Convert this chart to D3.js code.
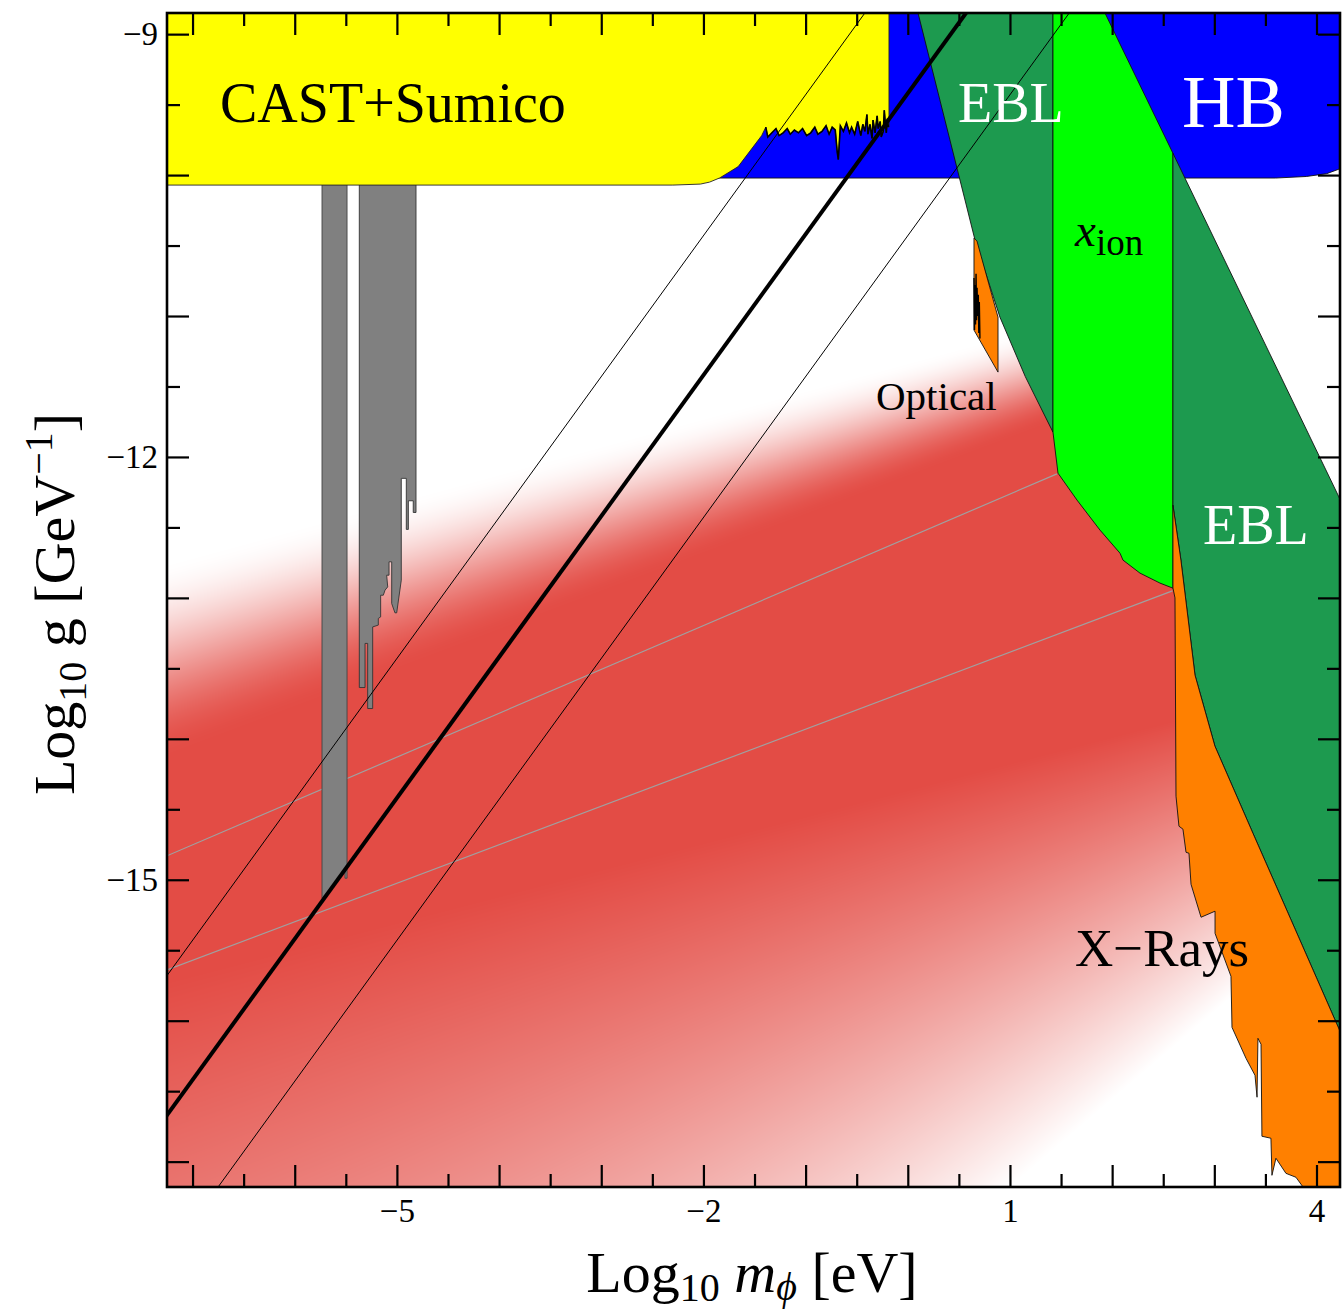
<!DOCTYPE html>
<html lang="en">
<head>
<meta charset="UTF-8">
<title>ALP bounds</title>
<style>
  body { margin: 0; background: #fff; }
  svg text { font-family: "Liberation Serif", "Times New Roman", serif; }
</style>
</head>
<body>
<script src="https://d3js.org/d3.v7.min.js"></script>
<svg id="chart" width="1343" height="1312"></svg>
<script>
// axes (log10 m in eV, log10 g in GeV^-1)
const xDomain = [-7.25, 4.23];
const yDomain = [-8.85, -17.18];
const xMajorTicks = [-7, -6, -5, -4, -3, -2, -1, 0, 1, 2, 3, 4];
const xMinorTicks = [-6.5, -5.5, -4.5, -3.5, -2.5, -1.5, -0.5, 0.5, 1.5, 2.5, 3.5];
const xTickLabels = [-5, -2, 1, 4];
const yMajorTicks = [-9, -10, -11, -12, -13, -14, -15, -16, -17];
const yMinorTicks = [-9.5, -10.5, -11.5, -12.5, -13.5, -14.5, -15.5, -16.5];
const yTickLabels = [-9, -12, -15];

// red favoured band: boundary lines [m, g]
const bandTopFull = [[-7.25, -14.15], [2.6, -11.44], [4.23, -13.5]];
const bandTopWhite = [[-7.25, -12.73], [2.6, -10.81], [4.23, -12.6]];
const bandLowFull = [[-7.25, -15.72], [4.23, -13.57]];
const bandLowWidth = [[-7.25, 6.6], [4.23, 1.6]];

// thin grey lines across the band
const greyLineA = [[-7.25, -14.83], [1.46, -12.12]];
const greyLineB = [[-7.25, -15.64], [2.59, -12.95]];

// g = m + c
const slopeOneOffsets = [-8.43, -9.42, -10.43];

// CAST+Sumico (upper edge is noisy near m ~ -1.4 .. -0.2)
const castNoise = [
  [-0.19, -9.66], [-0.20, -9.60], [-0.21, -9.70], [-0.22, -9.63], [-0.23, -9.54], [-0.24, -9.69],
  [-0.26, -9.73], [-0.27, -9.62], [-0.29, -9.67], [-0.30, -9.58], [-0.32, -9.70], [-0.34, -9.61],
  [-0.35, -9.74], [-0.37, -9.64], [-0.39, -9.71], [-0.40, -9.57], [-0.42, -9.69], [-0.44, -9.64],
  [-0.46, -9.72], [-0.49, -9.62], [-0.52, -9.71], [-0.55, -9.66], [-0.57, -9.70], [-0.60, -9.63],
  [-0.63, -9.69], [-0.66, -9.65], [-0.68, -9.89], [-0.69, -9.84], [-0.71, -9.68], [-0.74, -9.66],
  [-0.77, -9.71], [-0.80, -9.65], [-0.84, -9.69], [-0.88, -9.71], [-0.91, -9.66], [-0.95, -9.70],
  [-0.99, -9.72], [-1.03, -9.67], [-1.07, -9.70], [-1.11, -9.68], [-1.15, -9.71], [-1.18, -9.67],
  [-1.22, -9.70], [-1.26, -9.72], [-1.29, -9.67], [-1.33, -9.70], [-1.37, -9.73], [-1.39, -9.66]
];
const castEdge = [[-1.43, -9.72], [-1.66, -9.94], [-1.84, -10.02], [-1.94, -10.05], [-2.03, -10.064], [-2.3, -10.071], [-7.6, -10.071], [-7.6, -8.6], [-0.184, -8.6], [-0.184, -9.66]];

const hbRegion = [[-1.95, -8.6], [4.4, -8.6], [4.4, -9.94], [4.23, -9.955], [4.1, -9.99], [3.9, -10.01], [3.6, -10.021], [-1.95, -10.021]];

const eblLow = [[0.013, -8.6], [1.421, -8.6], [1.421, -11.824], [1.15, -11.43], [0.902, -11.008], [0.658, -10.461], [0.560, -10.177], [0.100, -8.85]];

const xionRegion = [[1.421, -8.6], [1.763, -8.6], [2.595, -9.845], [2.595, -12.931], [2.468, -12.895], [2.272, -12.824],
  [2.106, -12.732], [2.077, -12.683], [1.881, -12.519], [1.656, -12.306], [1.470, -12.115], [1.421, -11.824]];

const eblHigh = [[2.595, -9.845], [4.4, -12.555], [4.4, -16.355], [3.378, -14.67], [3.006, -14.052], [2.811, -13.548], [2.673, -12.732], [2.595, -12.342]];

const xrayRegion = [[2.595, -12.342], [2.673, -12.732], [2.811, -13.548], [3.006, -14.052], [3.378, -14.67], [4.4, -16.355],
  [4.4, -17.4], [3.90, -17.4], [3.868, -17.18], [3.799, -17.111], [3.701, -17.083], [3.603, -16.976], [3.564, -17.097],
  [3.554, -16.834], [3.466, -16.820], [3.457, -16.167], [3.427, -16.125], [3.418, -16.543], [3.398, -16.387], [3.310, -16.267],
  [3.173, -16.047], [3.163, -15.685], [3.007, -15.380], [3.007, -15.223], [2.870, -15.266], [2.772, -15.032], [2.752, -14.812],
  [2.723, -14.805], [2.693, -14.641], [2.654, -14.62], [2.625, -14.407], [2.615, -13.0], [2.595, -12.93]];

const opticalRegion = [[0.648, -10.447], [0.677, -10.468], [0.883, -11.008], [0.883, -11.398], [0.648, -11.10]];
const opticalNoise = [[0.648, -10.73], [0.653, -11.10], [0.658, -10.78], [0.663, -11.06], [0.668, -10.70], [0.673, -11.03],
  [0.678, -10.80], [0.684, -11.00], [0.690, -10.85], [0.695, -11.12], [0.700, -10.90], [0.706, -11.16]];

const admBar1 = [[-5.733, -10.0], [-5.488, -10.0], [-5.488, -14.989], [-5.508, -14.989], [-5.508, -14.94], [-5.733, -15.131]];
const admBar2 = [[-5.368, -10.0], [-4.813, -10.0], [-4.813, -12.394], [-4.840, -12.394], [-4.840, -12.311], [-4.888, -12.311],
  [-4.888, -12.514], [-4.908, -12.514], [-4.908, -12.152], [-4.957, -12.152], [-4.957, -12.874], [-5.002, -13.106],
  [-5.019, -13.106], [-5.051, -13.040], [-5.051, -12.744], [-5.077, -12.744], [-5.077, -12.839], [-5.100, -12.839],
  [-5.090, -12.922], [-5.116, -12.945], [-5.133, -12.981], [-5.159, -12.981], [-5.159, -13.135], [-5.182, -13.146],
  [-5.182, -13.193], [-5.237, -13.206], [-5.237, -13.785], [-5.286, -13.785], [-5.286, -13.323], [-5.312, -13.323],
  [-5.312, -13.636], [-5.368, -13.636]];

const x = d3.scaleLinear().domain(xDomain).range([167, 1340]);
const y = d3.scaleLinear().domain(yDomain).range([13, 1187]);
const [x0, x1] = x.range(), [y0, y1] = y.range();

const svg = d3.select("#chart");
svg.append("defs").append("clipPath").attr("id", "clip")
  .append("rect").attr("x", x0).attr("y", y0).attr("width", x1 - x0).attr("height", y1 - y0);

const plot = svg.append("g").attr("clip-path", "url(#clip)");
const area = d3.line().x(d => x(d[0])).y(d => y(d[1]));
const poly = pts => area(pts) + "Z";

// red band as a raster, each boundary as a piecewise linear scale
const edge = pts => d3.scaleLinear().domain(pts.map(d => d[0])).range(pts.map(d => d[1]));
const topFull = edge(bandTopFull), topWhite = edge(bandTopWhite);
const lowFull = edge(bandLowFull), lowWidth = edge(bandLowWidth);
const W = Math.round(x1 - x0), H = Math.round(y1 - y0);
const cv = document.createElement("canvas");
cv.width = W; cv.height = H;
const ctx = cv.getContext("2d");
const img = ctx.createImageData(W, H);
const red = [227, 76, 69];
for (let i = 0; i < W; i++) {
  const m = x.invert(x0 + i + 0.5);
  const yF = topFull(m), yW = topWhite(m), yL = lowFull(m), wL = lowWidth(m);
  for (let j = 0; j < H; j++) {
    const g = y.invert(y0 + j + 0.5);
    let t = (g - yF) / (yW - yF);
    t = Math.max(0, Math.min(1, t));
    const a1 = t * t * (3 - 2 * t);
    let f = (yL - g) / wL;
    f = Math.max(0, Math.min(1, f));
    const a = Math.max(a1, f);
    const k = (j * W + i) * 4;
    img.data[k] = red[0] + (255 - red[0]) * a;
    img.data[k + 1] = red[1] + (255 - red[1]) * a;
    img.data[k + 2] = red[2] + (255 - red[2]) * a;
    img.data[k + 3] = 255;
  }
}
ctx.putImageData(img, 0, 0);
plot.append("image")
  .attr("href", cv.toDataURL())
  .attr("x", x0).attr("y", y0).attr("width", W).attr("height", H)
  .attr("preserveAspectRatio", "none");

// grey lines
plot.selectAll("path.grey")
  .data([greyLineA, greyLineB])
  .join("path")
  .attr("d", area)
  .attr("fill", "none")
  .attr("stroke", "#a0a0a0")
  .attr("stroke-width", 1.2);

// regions
const regions = [
  { pts: admBar1, fill: "#808080", stroke: "#444" },
  { pts: admBar2, fill: "#808080", stroke: "#333" },
  { pts: hbRegion, fill: "#0000ff", stroke: "#111" },
  { pts: castNoise.concat(castEdge), fill: "#ffff00", stroke: "#222" },
  { pts: eblLow, fill: "#1d9a4f", stroke: "#111" },
  { pts: xionRegion, fill: "#00ff00", stroke: "#111" },
  { pts: eblHigh, fill: "#1d9a4f", stroke: "#111" },
  { pts: xrayRegion, fill: "#ff8000", stroke: "#111" },
  { pts: opticalRegion, fill: "#ff8000", stroke: "#111" }
];
plot.selectAll("path.region")
  .data(regions)
  .join("path")
  .attr("class", "region")
  .attr("d", d => poly(d.pts))
  .attr("fill", d => d.fill)
  .attr("stroke", d => d.stroke)
  .attr("stroke-width", 0.9);

// noisy edges drawn darker
plot.append("path")
  .attr("d", area(castNoise))
  .attr("fill", "none")
  .attr("stroke", "#000")
  .attr("stroke-width", 1.6);
plot.append("path")
  .attr("d", area(opticalNoise))
  .attr("fill", "none")
  .attr("stroke", "#000")
  .attr("stroke-width", 1.4);

// g = m + c lines
plot.selectAll("path.slope")
  .data(slopeOneOffsets)
  .join("path")
  .attr("d", c => area([[-9, -9 + c], [2, 2 + c]]))
  .attr("fill", "none")
  .attr("stroke", "#000")
  .attr("stroke-width", (c, i) => i === 1 ? 4 : 1);

// region labels
const labels = svg.append("g");
labels.append("text").attr("x", 220).attr("y", 122).attr("font-size", 56).text("CAST+Sumico");
labels.append("text").attr("x", 958).attr("y", 122).attr("font-size", 56).attr("fill", "#fff").text("EBL");
labels.append("text").attr("x", 1182).attr("y", 127).attr("font-size", 74).attr("fill", "#fff").text("HB");
labels.append("text").attr("x", 1203).attr("y", 544).attr("font-size", 56).attr("fill", "#fff").text("EBL");
labels.append("text").attr("x", 876).attr("y", 410).attr("font-size", 41).text("Optical");
labels.append("text").attr("x", 1075).attr("y", 966).attr("font-size", 53).text("X\u2212Rays");
const xi = labels.append("text").attr("x", 1075).attr("y", 246).attr("font-size", 47);
xi.append("tspan").attr("font-style", "italic").text("x");
xi.append("tspan").attr("font-size", 37).attr("dy", 9).text("ion");

// frame and ticks
const fmt = d => (d < 0 ? "\u2212" : "") + Math.abs(d);
function ticks(axisFn, pos, major, minor, labelSet, pad) {
  const gMaj = svg.append("g").attr("transform", pos)
    .call(axisFn.tickValues(major).tickSize(-22).tickPadding(pad)
      .tickFormat(d => labelSet.includes(d) ? fmt(d) : ""));
  const gMin = svg.append("g").attr("transform", pos)
    .call(axisFn.tickValues(minor).tickSize(-13).tickFormat(""));
  [gMaj, gMin].forEach(g => {
    g.select(".domain").remove();
    g.selectAll("line").attr("stroke", "#000").attr("stroke-width", 2.2);
    g.selectAll("text").attr("font-family", "Liberation Serif").attr("font-size", 33).attr("fill", "#000");
  });
}
ticks(d3.axisBottom(x), `translate(0,${y1})`, xMajorTicks, xMinorTicks, xTickLabels, 12);
ticks(d3.axisTop(x), `translate(0,${y0})`, xMajorTicks, xMinorTicks, [], 8);
ticks(d3.axisLeft(y), `translate(${x0},0)`, yMajorTicks, yMinorTicks, yTickLabels, 9);
ticks(d3.axisRight(y), `translate(${x1},0)`, yMajorTicks, yMinorTicks, [], 8);

svg.append("rect")
  .attr("x", x0).attr("y", y0).attr("width", x1 - x0).attr("height", y1 - y0)
  .attr("fill", "none").attr("stroke", "#000").attr("stroke-width", 2.6);

// axis titles
const xt = svg.append("text").attr("x", 752).attr("y", 1292).attr("font-size", 58).attr("text-anchor", "middle");
xt.append("tspan").text("Log");
xt.append("tspan").attr("font-size", 40).attr("dy", 9).text("10");
xt.append("tspan").attr("dy", -9).text(" ");
xt.append("tspan").attr("font-style", "italic").text("m");
xt.append("tspan").attr("font-style", "italic").attr("font-size", 40).attr("dy", 8).text("\u03d5");
xt.append("tspan").attr("dy", -8).text(" [eV]");

const yt = svg.append("text").attr("transform", "translate(74,604) rotate(-90)")
  .attr("font-size", 58).attr("text-anchor", "middle");
yt.append("tspan").text("Log");
yt.append("tspan").attr("font-size", 40).attr("dy", 12).text("10");
yt.append("tspan").attr("dy", -12).text(" g [GeV");
yt.append("tspan").attr("font-size", 40).attr("dy", -22).text("\u22121");
yt.append("tspan").attr("dy", 22).text("]");
</script>
</body>
</html>
